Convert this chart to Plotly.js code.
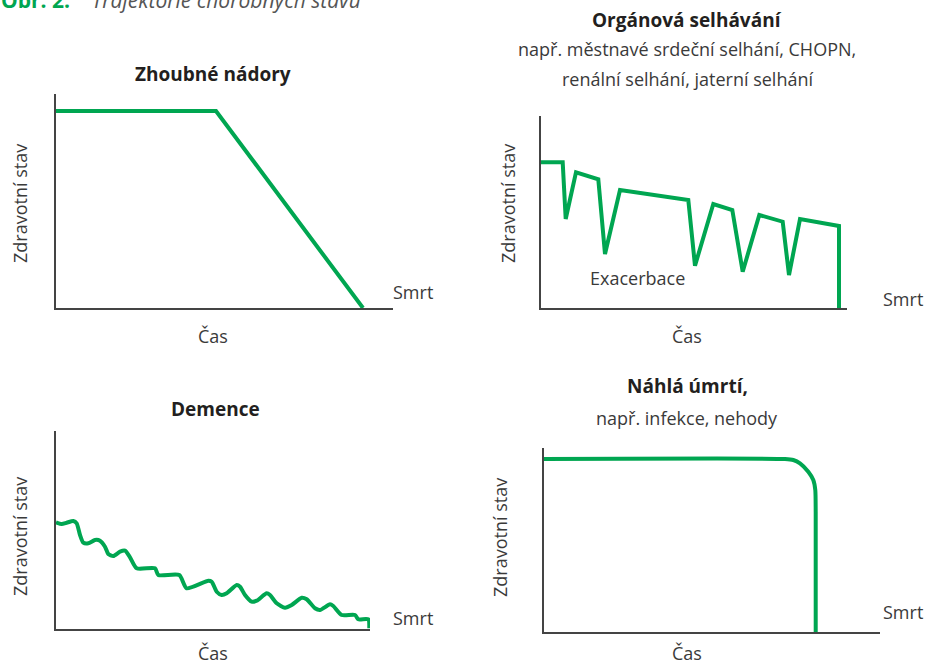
<!DOCTYPE html>
<html>
<head>
<meta charset="utf-8">
<script src="https://cdn.plot.ly/plotly-3.0.1.min.js"></script>
<style>html,body{margin:0;padding:0;background:#fff;}#chart{width:941px;height:664px;}</style>
</head>
<body>
<div id="chart"></div>
<script>
// ---- data (time units / health units) ----
const cancerTime   = [0, 160, 307];
const cancerHealth = [197, 197, 0];

const organTime   = [0, 21.7, 24.7, 35, 57.3, 64, 79, 147.3, 154, 172.3, 191.3, 201.7, 218.3, 241.7, 248, 259, 298, 298];
const organHealth = [145.7, 145.7, 89, 135.7, 128.7, 54, 118, 108, 42.3, 104, 98, 36.3, 93, 86.3, 33, 89, 82, 0];

const dementiaTime = [0, 5.7, 10.7, 17.3, 20.7, 24, 27.3, 32.3, 39, 44, 49, 52.3, 57.3, 64, 69, 74, 80.7, 99, 102.3, 123.3,
  130.7, 152.3, 155.7, 160.7, 165.7, 170.7, 180.7, 184, 189, 195.7, 200.7, 210.7, 214, 220.7, 229, 235.7, 245.7, 250.7,
  259, 264, 274, 277.3, 285.7, 299, 302.3, 312.3, 313.3];
const dementiaHealth = [106.7, 105, 106.3, 108, 105.7, 94, 86.3, 85.7, 89, 88.3, 82.3, 75, 73, 77.3, 78.3, 71.7, 60.7, 60.7, 54, 54,
  40.7, 48.3, 47.3, 37.3, 34, 35.7, 44, 42.3, 34, 27.3, 28.3, 35.7, 34, 25.7, 21.3, 24, 31.3, 29.7,
  20.7, 19, 24.7, 23, 14, 14, 9.7, 9.7, 0.7];

const suddenTime   = [0, 241, 249.3, 256, 264.3, 269.3, 271.3, 271.7, 271.7];
const suddenHealth = [173, 173, 172, 168.7, 160.3, 152, 142, 120, 0];

const panelTitles = ["Zhoubné nádory", "Orgánová selhávání", "Demence", "Náhlá úmrtí,"];
const organSub1 = "např. městnavé srdeční selhání, CHOPN,";
const organSub2 = "renální selhání, jaterní selhání";
const suddenSub = "např. infekce, nehody";
const yLabel = "Zdravotní stav";
const xLabel = "Čas";
const endLabel = "Smrt";
const exacerbation = "Exacerbace";
const captionNum = "Obr. 2.";
const captionText = "Trajektorie chorobných stavů";

// ---- layout helpers (pixel -> paper) ----
const W = 941, H = 664;
const px = v => v / W;
const py = v => 1 - v / H;
const GREEN = "#00a651";
const AX = "#444444";
const TXT = "#3a3a3a";
const DARK = "#231f20";
const FONT = "Open Sans, Noto Sans, sans-serif";
const TS = 19, LS = 18;

// panel boxes [left, right, top, bottom] in pixels
const boxes = [
  [56, 393, 94, 308],
  [541, 847, 116, 308],
  [56, 370, 431, 629],
  [544, 880, 448, 632]
];
const series = [
  [cancerTime, cancerHealth, "linear"],
  [organTime, organHealth, "linear"],
  [dementiaTime, dementiaHealth, "spline"],
  [suddenTime, suddenHealth, "spline"]
];

const traces = [];
const layout = {
  width: W, height: H,
  margin: {l: 0, r: 0, t: 0, b: 0},
  paper_bgcolor: "#fff", plot_bgcolor: "rgba(0,0,0,0)",
  showlegend: false,
  font: {family: FONT, color: TXT},
  annotations: []
};

boxes.forEach((b, i) => {
  const n = i === 0 ? "" : String(i + 1);
  const [l, r, t, bt] = b;
  traces.push({
    x: series[i][0], y: series[i][1],
    xaxis: "x" + n, yaxis: "y" + n,
    type: "scatter", mode: "lines",
    line: {color: GREEN, width: 4, shape: series[i][2], smoothing: 0.6},
    hoverinfo: "skip"
  });
  const common = {showgrid: false, zeroline: false, showticklabels: false, ticks: "",
                  showline: true, linecolor: AX, linewidth: 1.6, fixedrange: true};
  layout["xaxis" + n] = Object.assign({}, common, {domain: [px(l), px(r)], range: [0, r - l], anchor: "y" + n});
  layout["yaxis" + n] = Object.assign({}, common, {domain: [py(bt), py(t)], range: [0, bt - t], anchor: "x" + n});
});

function ann(text, x, y, opts) {
  layout.annotations.push(Object.assign({
    text: text, xref: "paper", yref: "paper", x: px(x), y: py(y),
    xanchor: "center", yanchor: "middle", showarrow: false,
    font: {family: FONT, size: LS, color: TXT}
  }, opts || {}));
}
const titleFont = {family: FONT, size: TS, color: DARK};

// titles
ann("<b>" + panelTitles[0] + "</b>", 213, 74, {font: titleFont});
ann("<b>" + panelTitles[1] + "</b>", 687, 20, {font: titleFont});
ann(organSub1, 687, 49);
ann(organSub2, 687, 79);
ann("<b>" + panelTitles[2] + "</b>", 215, 409, {font: titleFont});
ann("<b>" + panelTitles[3] + "</b>", 687, 386, {font: titleFont});
ann(suddenSub, 687, 418);

// axis labels
const xLabPos = [[213, 336], [687, 336], [213, 653], [687, 653]];
const yLabPos = [[20, 204], [508, 203], [20, 537], [500, 537]];
const endPos = [[413, 292], [903, 299], [413, 618], [903, 612]];
for (let i = 0; i < 4; i++) {
  ann(xLabel, xLabPos[i][0], xLabPos[i][1]);
  ann(yLabel, yLabPos[i][0], yLabPos[i][1], {textangle: -90});
  ann(endLabel, endPos[i][0], endPos[i][1]);
}
ann(exacerbation, 637, 278);

// caption (cut at top edge, as in the source)
ann("<b><span style='color:" + GREEN + "'>" + captionNum + "</span></b>    <i>" + captionText + "</i>", -1, 0,
    {xanchor: "left", font: {family: FONT, size: 21, color: "#555"}});

Plotly.newPlot("chart", traces, layout, {displayModeBar: false, staticPlot: true});
</script>
</body>
</html>
